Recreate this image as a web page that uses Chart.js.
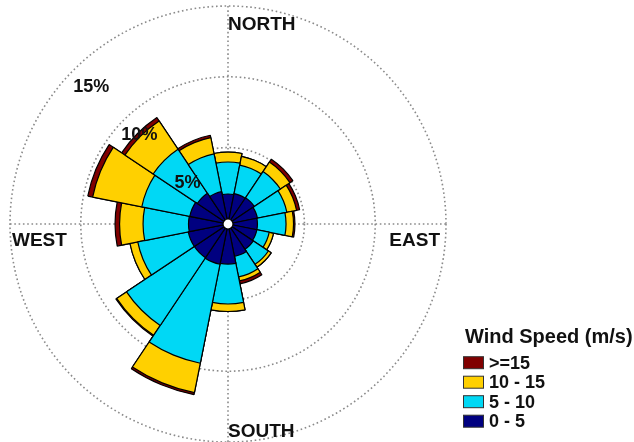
<!DOCTYPE html>
<html>
<head>
<meta charset="utf-8">
<script src="https://cdn.jsdelivr.net/npm/chart.js@4.4.1/dist/chart.umd.min.js"></script>
<style>
  html, body { margin: 0; padding: 0; background: #fff; }
  #wrap { width: 634px; height: 442px; position: relative; }
</style>
</head>
<body>
<div id="wrap"><canvas id="windRose"></canvas></div>
<script>
// 16 compass directions, clockwise from north
const directions = ['N', 'NNE', 'NE', 'ENE', 'E', 'ESE', 'SE', 'SSE', 'S', 'SSW', 'SW', 'WSW', 'W', 'WNW', 'NW', 'NNW'];

// frequency (%) of each wind speed class, per direction
const speed0to5   = [1.72, 1.79, 1.83, 1.72, 1.68, 1.68, 1.75, 1.93, 2.43, 2.50, 2.46, 2.46, 2.39, 2.35, 2.21, 1.93];
const speed5to10  = [2.26, 2.05, 2.22, 2.12, 2.02, 0.89, 1.28, 1.48, 2.82, 7.13, 5.76, 3.64, 3.21, 3.46, 3.75, 2.72];
const speed10to15 = [0.70, 0.63, 0.81, 0.70, 0.53, 0.31, 0.24, 0.29, 0.53, 2.12, 0.84, 0.56, 1.66, 3.54, 2.40, 1.17];
const speed15up   = [0.00, 0.00, 0.25, 0.22, 0.10, 0.00, 0.00, 0.21, 0.00, 0.14, 0.07, 0.00, 0.32, 0.35, 0.28, 0.17];

const speedLabels = ['0 - 5', '5 - 10', '10 - 15', '>=15'];
const speedColors = ['#000080', '#00d8f5', '#ffd000', '#800000'];
const legendTitle = 'Wind Speed (m/s)';

// rings of the radial axis and their labels
const ringValues = [5, 10, 15];
const ringLabels = ['5%', '10%', '15%'];
const compassLabels = ['NORTH', 'EAST', 'SOUTH', 'WEST'];

const labelFont = 'bold 19px "Liberation Sans", Arial, sans-serif';
const dotColor = '#8a8a8a';
const dotted = [1.6, 2.7];

// stack the classes: each dataset reaches the sum of itself and the slower classes
const bins = [speed0to5, speed5to10, speed10to15, speed15up];
const stacked = bins.map((_, b) =>
    directions.map((d, i) => bins.slice(0, b + 1).reduce((sum, arr) => sum + arr[i], 0))
);

// extra drawing: axis cross, centre hole, ring labels, compass names and the legend
const roseDecor = {
    id: 'roseDecor',
    beforeDatasetsDraw(chart) {
        const r = chart.scales.r;
        const ctx = chart.ctx;
        const R = r.drawingArea;
        ctx.save();
        ctx.strokeStyle = dotColor;
        ctx.lineWidth = 1.6;
        ctx.setLineDash(dotted);
        ctx.beginPath();
        ctx.moveTo(r.xCenter, r.yCenter - R);
        ctx.lineTo(r.xCenter, r.yCenter + R);
        ctx.moveTo(r.xCenter - R, r.yCenter);
        ctx.lineTo(r.xCenter + R, r.yCenter);
        ctx.stroke();
        ctx.restore();
    },
    afterDatasetsDraw(chart) {
        const r = chart.scales.r;
        const ctx = chart.ctx;
        const cx = r.xCenter, cy = r.yCenter, R = r.drawingArea;
        ctx.save();

        // white hole in the middle
        ctx.beginPath();
        ctx.arc(cx, cy, 5, 0, Math.PI * 2);
        ctx.fillStyle = '#fff';
        ctx.fill();
        ctx.strokeStyle = '#000';
        ctx.lineWidth = 1.2;
        ctx.stroke();

        // percentage labels along the north-west diagonal, just inside each ring
        ctx.fillStyle = '#111';
        ctx.font = 'bold 18px "Liberation Sans", Arial, sans-serif';
        ctx.textAlign = 'center';
        ctx.textBaseline = 'middle';
        ringValues.forEach((v, i) => {
            const d = r.getDistanceFromCenterForValue(v) * 0.96 - 16;
            ctx.fillText(ringLabels[i], cx - d * Math.SQRT1_2, cy - d * Math.SQRT1_2);
        });

        // compass names
        ctx.font = labelFont;
        ctx.textBaseline = 'alphabetic';
        ctx.textAlign = 'left';
        ctx.fillText(compassLabels[0], cx, cy - R + 24);
        ctx.fillText(compassLabels[2], cx, cy + R - 5);
        ctx.fillText(compassLabels[3], cx - R + 2, cy + 22);
        ctx.textAlign = 'right';
        ctx.fillText(compassLabels[1], cx + R - 6, cy + 22);

        // legend, fastest class on top
        ctx.textAlign = 'left';
        ctx.font = 'bold 20px "Liberation Sans", Arial, sans-serif';
        ctx.fillText(legendTitle, 465, 343);
        ctx.font = 'bold 18px "Liberation Sans", Arial, sans-serif';
        ctx.textBaseline = 'middle';
        ctx.lineWidth = 1;
        for (let k = 0; k < speedLabels.length; k++) {
            const b = speedLabels.length - 1 - k;
            const y = 362.7 + k * 19.5;
            ctx.fillStyle = speedColors[b];
            ctx.fillRect(463.5, y - 6, 20, 12);
            ctx.strokeStyle = '#333';
            ctx.strokeRect(463.5, y - 6, 20, 12);
            ctx.fillStyle = '#111';
            ctx.fillText(speedLabels[b], 489, y + 1);
        }
        ctx.restore();
    }
};

const ctx = document.getElementById('windRose').getContext('2d');

new Chart(ctx, {
    type: 'polarArea',
    data: {
        labels: directions,
        datasets: stacked.map((vals, b) => ({
            label: speedLabels[b],
            data: vals,
            backgroundColor: speedColors[b],
            borderColor: '#000',
            borderWidth: 1.2
        }))
    },
    options: {
        responsive: true,
        maintainAspectRatio: false,
        animation: false,
        layout: { padding: { left: 10, right: 188, top: 6, bottom: 0 } },
        plugins: {
            legend: { display: false },
            tooltip: { enabled: false }
        },
        scales: {
            r: {
                min: -0.4,
                max: 15,
                startAngle: -11.25, // centre each sector on its direction
                afterBuildTicks: scale => {
                    scale.ticks = ringValues.map(v => ({ value: v }));
                },
                ticks: { display: false },
                grid: { circular: true, color: dotColor, lineWidth: 1.6, borderDash: dotted },
                border: { dash: dotted },
                angleLines: { display: false },
                pointLabels: { display: false }
            }
        }
    },
    plugins: [roseDecor]
});
</script>
</body>
</html>
